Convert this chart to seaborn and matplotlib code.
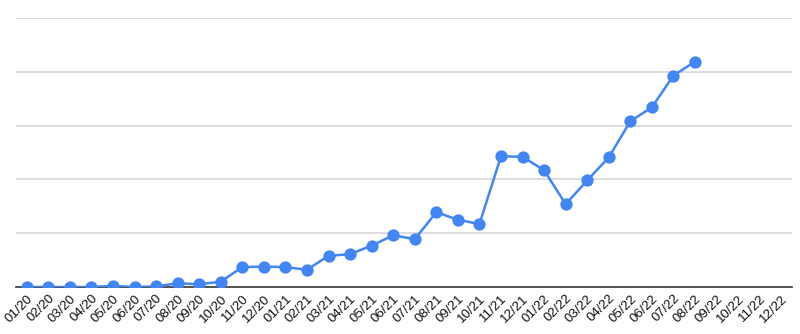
import matplotlib
matplotlib.use("Agg")
import matplotlib.pyplot as plt
import seaborn as sns
import pandas as pd

months = [f"{m:02d}/{y}" for y in (20, 21, 22) for m in range(1, 13)]
values = [0, 0, 0, 0, 2, 0, 1, 7, 5, 10, 37, 38, 37, 32, 58, 61, 77, 96,
          89, 139, 125, 117, 243, 242, 217, 154, 198, 241, 308, 334, 393, 419]

df = pd.DataFrame({"month": months[:len(values)], "value": values})

sns.set_theme(style="white")
plt.rcParams["font.family"] = ["Liberation Sans", "DejaVu Sans"]

fig = plt.figure(figsize=(8, 3.34), dpi=100)
ax = fig.add_axes([0.02, 1 - 287 / 334, 0.97, (287 - 18) / 334])

sns.pointplot(data=df, x="month", y="value", order=months, color="#4285F4",
              markersize=7.5, linewidth=1.8, ax=ax, zorder=3)

ax.set_xlim(-0.5, len(months) - 0.5)
ax.set_ylim(0, 500)
ax.set_yticks([100, 200, 300, 400, 500])
ax.yaxis.grid(True, color="#dadada", linewidth=1.3)
ax.set_axisbelow(True)
ax.set_yticklabels([])
ax.tick_params(axis="y", length=0)
ax.tick_params(axis="x", length=0, pad=4, labelsize=9.6, labelcolor="#111111")
plt.setp(ax.get_xticklabels(), rotation=45, ha="right", rotation_mode="anchor")
for s in ("top", "right", "left"):
    ax.spines[s].set_visible(False)
ax.spines["bottom"].set_color("#333333")
ax.spines["bottom"].set_linewidth(1.2)
ax.set_xlabel("")
ax.set_ylabel("")

fig.savefig("out.png", dpi=100)
